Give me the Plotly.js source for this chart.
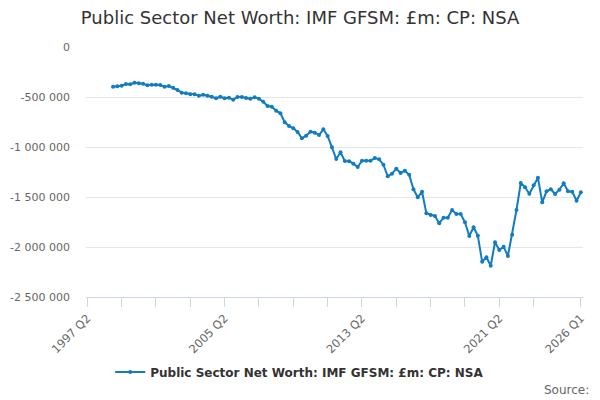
<!DOCTYPE html>
<html>
<head>
<meta charset="utf-8">
<script src="https://cdn.plot.ly/plotly-3.0.1.min.js"></script>
<style>
  html, body { margin: 0; padding: 0; background: #fff; }
  #chart { width: 600px; height: 400px; }
</style>
</head>
<body>
<div id="chart"></div>
<script>
// quarterly axis from 1997 Q2 to 2026 Q1
var quarters = [];
for (var y = 1997; y <= 2026; y++) {
  for (var q = 1; q <= 4; q++) {
    if (y === 1997 && q < 2) continue;
    if (y === 2026 && q > 1) continue;
    quarters.push(y + ' Q' + q);
  }
}

var firstQuarter = '1998 Q4';

// £m, 1998 Q4 .. 2026 Q1
var netWorth = [
  -397000, -393000, -387000, -370000, -373000, -357000, -363000, -367000,
  -383000, -377000, -377000, -380000, -397000, -390000, -407000, -430000,
  -457000, -463000, -473000, -473000, -487000, -477000, -487000, -497000,
  -513000, -497000, -513000, -507000, -527000, -500000, -500000, -510000,
  -517000, -503000, -517000, -547000, -590000, -597000, -637000, -663000,
  -753000, -790000, -813000, -850000, -913000, -887000, -847000, -857000,
  -880000, -823000, -890000, -1003000, -1120000, -1053000, -1140000, -1143000,
  -1167000, -1200000, -1137000, -1137000, -1137000, -1110000, -1123000, -1177000,
  -1293000, -1267000, -1217000, -1260000, -1237000, -1277000, -1423000, -1503000,
  -1447000, -1663000, -1680000, -1690000, -1763000, -1707000, -1707000, -1630000,
  -1670000, -1670000, -1753000, -1890000, -1803000, -1887000, -2147000, -2103000,
  -2187000, -1953000, -2030000, -1997000, -2090000, -1877000, -1630000, -1360000,
  -1403000, -1467000, -1383000, -1307000, -1553000, -1443000, -1423000, -1470000,
  -1427000, -1363000, -1443000, -1447000, -1537000, -1453000
];

var seriesQuarters = quarters.slice(quarters.indexOf(firstQuarter), quarters.indexOf(firstQuarter) + netWorth.length);

// x ticks every two years, labels every eight, plus the last quarter
var xTickVals = ['1997 Q2', '1999 Q2', '2001 Q2', '2003 Q2', '2005 Q2', '2007 Q2', '2009 Q2',
  '2011 Q2', '2013 Q2', '2015 Q2', '2017 Q2', '2019 Q2', '2021 Q2', '2023 Q2', '2026 Q1'];
var xTickText = ['1997 Q2', '', '', '', '2005 Q2', '', '', '', '2013 Q2', '', '', '', '2021 Q2', '', '2026 Q1'];

var yTickVals = [0, -500000, -1000000, -1500000, -2000000, -2500000];
var yTickText = ['0', '-500 000', '-1 000 000', '-1 500 000', '-2 000 000', '-2 500 000'];

var seriesName = 'Public Sector Net Worth: IMF GFSM: £m: CP: NSA';
var lineColor = '#127cc1';

var trace = {
  x: seriesQuarters,
  y: netWorth,
  type: 'scatter',
  mode: 'lines+markers',
  name: seriesName,
  line: { color: lineColor, width: 2 },
  marker: { color: lineColor, size: 4 },
  showlegend: true
};

var layout = {
  width: 600,
  height: 400,
  margin: { l: 86, r: 17, t: 47, b: 103, autoexpand: false },
  paper_bgcolor: '#fff',
  plot_bgcolor: '#fff',
  font: { family: 'DejaVu Sans, sans-serif', color: '#666' },
  hovermode: false,
  title: {
    text: seriesName,
    font: { size: 18, color: '#333', family: 'DejaVu Sans, sans-serif' },
    x: 0.5, xanchor: 'center', xref: 'container',
    y: 0.955, yanchor: 'middle'
  },
  xaxis: {
    type: 'category',
    categoryorder: 'array',
    categoryarray: quarters,
    range: [-0.3, 115.5],
    tickmode: 'array',
    tickvals: xTickVals,
    ticktext: xTickText,
    tickangle: -45,
    ticks: 'outside',
    ticklen: 9,
    tickcolor: '#ccd6eb',
    showline: true,
    linecolor: '#ccd6eb',
    linewidth: 1,
    showgrid: false,
    zeroline: false,
    tickfont: { size: 11.5, color: '#666' },
    fixedrange: true
  },
  yaxis: {
    range: [-2500000, 0],
    tickmode: 'array',
    tickvals: yTickVals,
    ticktext: yTickText,
    ticks: '',
    ticklabelstandoff: 15,
    showline: false,
    showgrid: true,
    gridcolor: '#e6e6e6',
    gridwidth: 1,
    zeroline: false,
    tickfont: { size: 11, color: '#666' },
    fixedrange: true
  },
  legend: {
    orientation: 'h',
    x: 0.43, xanchor: 'center',
    y: -0.30, yanchor: 'middle',
    font: { size: 12, color: '#333', weight: 'bold' },
    bgcolor: 'rgba(0,0,0,0)'
  },
  annotations: [{
    text: 'Source:',
    xref: 'paper', yref: 'paper',
    x: 1.016, xanchor: 'right',
    y: -0.37, yanchor: 'middle',
    showarrow: false,
    font: { size: 12, color: '#666' }
  }]
};

Plotly.newPlot('chart', [trace], layout, { displayModeBar: false, staticPlot: true });
</script>
</body>
</html>
